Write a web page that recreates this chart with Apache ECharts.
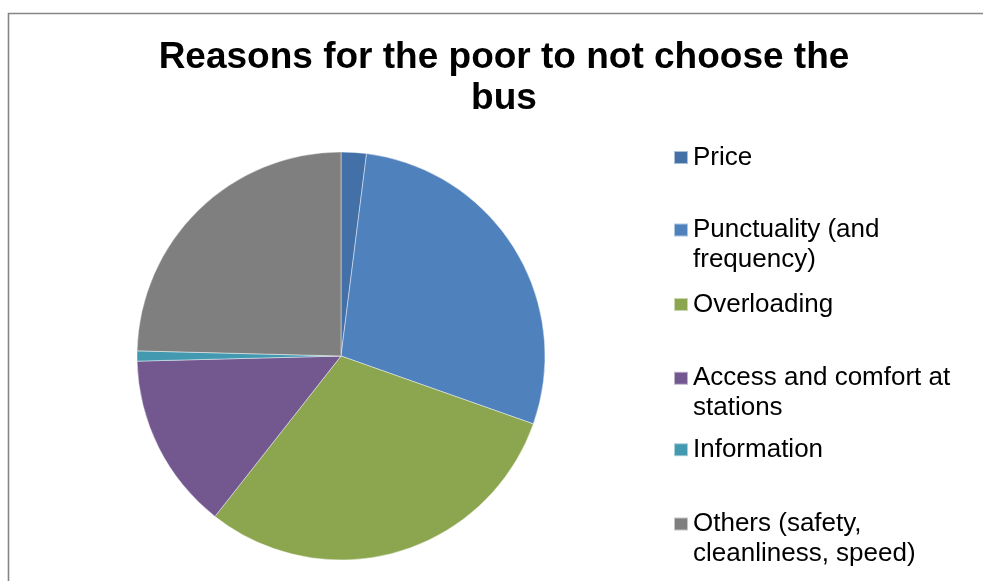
<!DOCTYPE html>
<html>
<head>
<meta charset="utf-8">
<title>Reasons for the poor to not choose the bus</title>
<script src="https://cdn.jsdelivr.net/npm/echarts@6/dist/echarts.min.js"></script>
<style>
  html, body { margin: 0; padding: 0; background: #fff; }
  #chart { width: 983px; height: 581px; }
</style>
</head>
<body>
<div id="chart"></div>
<script>
// Share of respondents (%) per reason
const categories = [
  'Price',
  'Punctuality (and frequency)',
  'Overloading',
  'Access and comfort at stations',
  'Information',
  'Others (safety, cleanliness, speed)'
];
const shares = [2.0, 28.4, 30.2, 14.0, 0.8, 24.6];
// Legend text as it wraps beside the pie
const legendLines = [
  ['Price'],
  ['Punctuality (and', 'frequency)'],
  ['Overloading'],
  ['Access and comfort at', 'stations'],
  ['Information'],
  ['Others (safety,', 'cleanliness, speed)']
];

const colors = ['#4470A8', '#4F81BD', '#8BA64F', '#72588F', '#4299B0', '#7F7F7F'];

const FONT = '"Liberation Sans", Arial, sans-serif';
const LINE = 30;
const legendCenters = [157.5, 230, 304.5, 378.3, 449.7, 524];

// One legend block per entry so every swatch sits on its first text line
const legends = categories.map((name, i) => {
  const lines = legendLines[i];
  const multi = lines.length > 1;
  return {
    data: [name],
    orient: 'vertical',
    left: 673,
    top: legendCenters[i] - (multi ? LINE * 1.5 : LINE / 2),
    padding: 0,
    itemWidth: 14,
    itemHeight: 13,
    icon: 'rect',
    selectedMode: false,
    formatter: () => (multi ? '\n' : '') + lines.join('\n'),
    textStyle: {
      fontFamily: FONT,
      fontSize: 26,
      lineHeight: LINE,
      color: '#000'
    }
  };
});

const chart = echarts.init(document.getElementById('chart'), null, { renderer: 'canvas' });
chart.setOption({
  animation: false,
  backgroundColor: '#fff',
  color: colors,
  graphic: [{
    type: 'rect',
    z: -10,
    shape: { x: 8.5, y: 13.5, width: 1000, height: 620 },
    style: { fill: '#fff', stroke: '#868686', lineWidth: 1.6 },
    silent: true
  }],
  title: {
    text: 'Reasons for the poor to not choose the\nbus',
    left: 504,
    textAlign: 'center',
    top: 37,
    padding: 0,
    textStyle: {
      fontFamily: FONT,
      fontWeight: 'bold',
      fontSize: 37,
      lineHeight: 41,
      color: '#000'
    }
  },
  legend: legends,
  series: [{
    type: 'pie',
    center: [341, 356],
    radius: 204,
    startAngle: 90,
    clockwise: true,
    label: { show: false },
    labelLine: { show: false },
    emphasis: { disabled: true },
    itemStyle: { borderColor: 'rgba(255,255,255,0.55)', borderWidth: 0.8 },
    data: categories.map((name, i) => ({ name, value: shares[i] }))
  }]
});
</script>
</body>
</html>
